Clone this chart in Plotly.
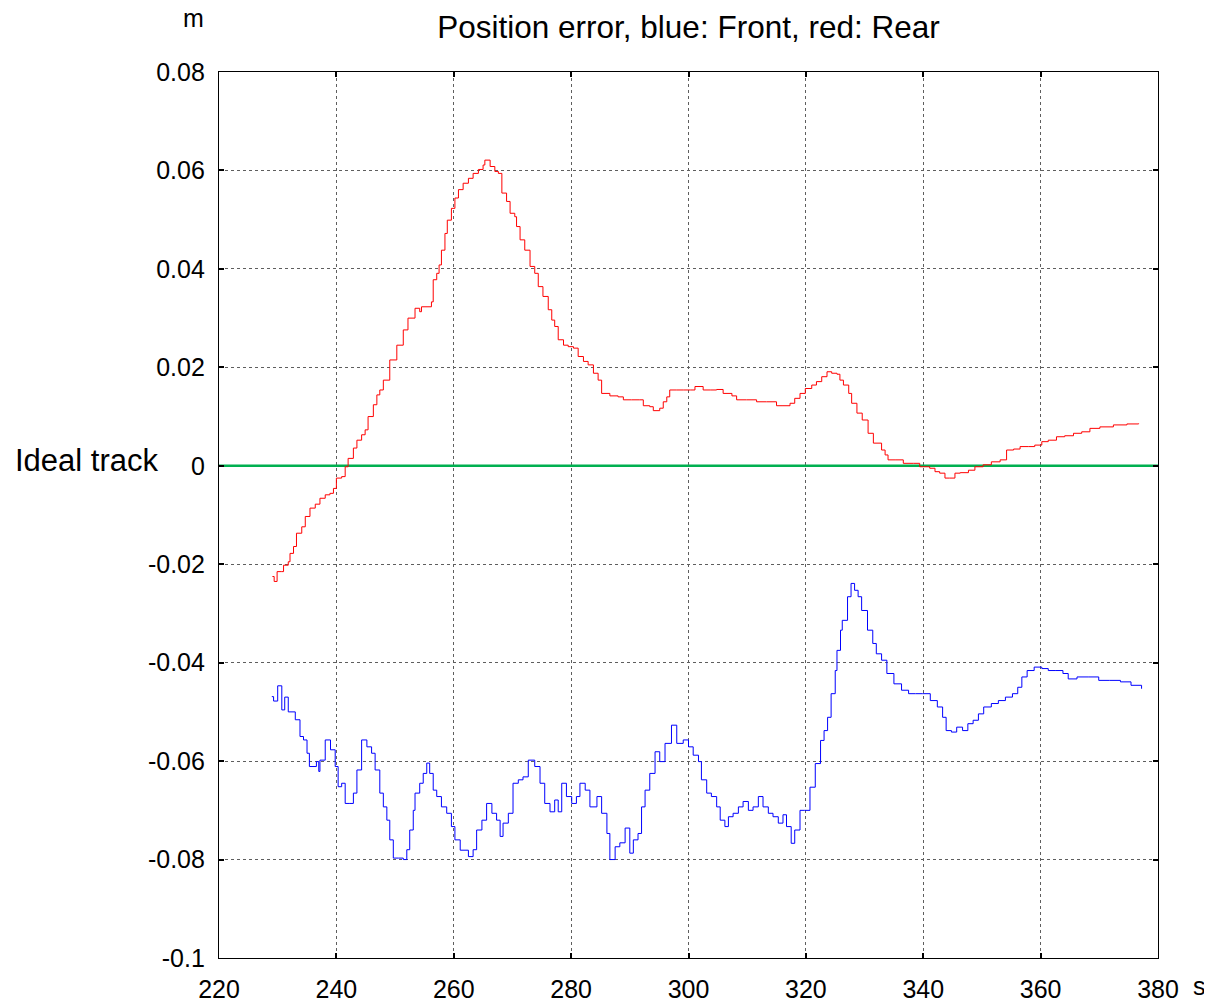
import plotly.graph_objects as go

# ---------------- data ----------------
x_ticks = [220, 240, 260, 280, 300, 320, 340, 360, 380]
y_ticks = [0.08, 0.06, 0.04, 0.02, 0, -0.02, -0.04, -0.06, -0.08, -0.1]
y_tick_text = ["0.08", "0.06", "0.04", "0.02", "0", "-0.02", "-0.04", "-0.06", "-0.08", "-0.1"]

rear_t = [229.1, 229.4, 229.9, 230.7, 231.0, 231.8, 232.1, 232.7, 233.2, 234.1,
          234.7, 235.5, 236.4, 237.2, 238.1, 238.9, 239.5, 240.0, 240.9, 241.5,
          242.0, 242.9, 243.5, 244.3, 244.9, 245.4, 246.3, 246.9, 247.4, 248.0,
          249.1, 250.3, 251.4, 252.2, 253.4, 254.2, 254.5, 256.2, 256.5, 257.1,
          257.5, 257.9, 258.5, 258.9, 259.6, 260.2, 260.8, 261.6, 262.5, 263.3,
          264.2, 265.0, 265.3, 266.2, 267.0, 267.6, 268.2, 269.0, 269.6, 270.4,
          270.7, 271.3, 272.1, 273.0, 273.8, 274.4, 275.2, 276.1, 276.7, 277.2,
          277.8, 278.7, 279.5, 280.4, 281.2, 282.1, 282.9, 283.8, 284.6, 285.2,
          286.6, 288.0, 288.9, 290.3, 291.7, 292.3, 293.4, 294.0, 295.1, 295.7,
          296.3, 296.8, 298.0, 299.1, 300.3, 301.1, 302.5, 303.7, 304.8, 305.9,
          307.4, 308.2, 309.9, 311.6, 313.3, 315.0, 316.1, 317.3, 318.1, 319.0,
          319.9, 321.0, 321.8, 322.7, 323.6, 324.4, 325.3, 325.8, 326.4, 327.3,
          327.8, 328.7, 329.6, 330.6, 331.5, 332.9, 333.5, 334.0, 335.2, 336.6,
          338.3, 339.4, 341.1, 342.0, 342.8, 343.7, 344.5, 345.4, 346.3, 347.7,
          348.8, 350.2, 351.6, 353.1, 354.2, 355.4, 356.5, 357.9, 359.0, 360.2,
          361.3, 362.7, 364.1, 365.6, 367.0, 368.4, 370.1, 372.4, 374.7, 376.7]
rear_err = [-0.0225, -0.0235, -0.0215, -0.0215, -0.0202, -0.0195, -0.0178, -0.0164, -0.0137, -0.0124,
            -0.0103, -0.0086, -0.0078, -0.0066, -0.0059, -0.0056, -0.0046, -0.0025, -0.0022, -0.0002,
            0.0015, 0.0036, 0.0052, 0.0063, 0.0073, 0.0100, 0.0124, 0.0144, 0.0154, 0.0174,
            0.0215, 0.0245, 0.0276, 0.0300, 0.0320, 0.0313, 0.0323, 0.0333, 0.0378, 0.0391,
            0.0408, 0.0438, 0.0472, 0.0499, 0.0523, 0.0544, 0.0561, 0.0574, 0.0584, 0.0594,
            0.0602, 0.0611, 0.0621, 0.0608, 0.0598, 0.0594, 0.0554, 0.0537, 0.0513, 0.0506,
            0.0486, 0.0459, 0.0438, 0.0405, 0.0391, 0.0364, 0.0344, 0.0317, 0.0296, 0.0283,
            0.0256, 0.0245, 0.0242, 0.0239, 0.0222, 0.0212, 0.0205, 0.0188, 0.0174, 0.0147,
            0.0142, 0.0140, 0.0134, 0.0134, 0.0134, 0.0122, 0.0120, 0.0112, 0.0117, 0.0130,
            0.0140, 0.0154, 0.0154, 0.0154, 0.0154, 0.0161, 0.0154, 0.0154, 0.0155, 0.0147,
            0.0142, 0.0134, 0.0134, 0.0130, 0.0130, 0.0122, 0.0122, 0.0127, 0.0137, 0.0147,
            0.0157, 0.0164, 0.0171, 0.0181, 0.0191, 0.0188, 0.0186, 0.0174, 0.0164, 0.0147,
            0.0127, 0.0107, 0.0093, 0.0066, 0.0046, 0.0032, 0.0022, 0.0012, 0.0012, 0.0005,
            0.0005, -0.0002, -0.0005, -0.0012, -0.0015, -0.0025, -0.0025, -0.0015, -0.0014, -0.0009,
            -0.0002, 0.0002, 0.0008, 0.0012, 0.0032, 0.0034, 0.0039, 0.0039, 0.0042, 0.0049,
            0.0052, 0.0059, 0.0061, 0.0066, 0.0069, 0.0076, 0.0079, 0.0083, 0.0085, 0.0086]

front_t = [229.0, 229.3, 230.0, 230.7, 231.2, 231.8, 233.0, 233.8, 234.4, 235.0,
           235.4, 236.6, 237.0, 237.2, 238.1, 239.0, 239.8, 240.3, 240.9, 241.5,
           242.3, 242.9, 243.5, 244.3, 245.2, 246.0, 246.6, 247.4, 248.0, 248.6,
           249.1, 249.7, 250.6, 251.4, 252.0, 252.5, 253.1, 253.4, 254.2, 254.8,
           255.4, 255.9, 256.5, 257.1, 257.9, 258.8, 259.6, 260.2, 261.1, 262.5,
           263.3, 263.9, 264.8, 265.6, 266.5, 267.3, 267.9, 268.4, 269.3, 270.1,
           271.0, 271.8, 272.7, 273.8, 274.7, 275.5, 276.4, 277.2, 277.8, 278.4,
           279.2, 280.1, 280.9, 281.5, 282.4, 283.2, 284.4, 285.2, 286.1, 286.6,
           287.5, 288.3, 289.2, 290.0, 290.6, 291.4, 292.0, 292.6, 293.4, 294.3,
           295.1, 296.0, 297.1, 298.0, 299.1, 300.0, 300.8, 301.7, 302.2, 303.1,
           303.9, 304.8, 305.4, 306.2, 306.8, 307.6, 308.5, 309.3, 310.2, 311.0,
           311.9, 312.7, 313.6, 314.4, 315.3, 316.1, 316.7, 317.5, 318.1, 319.0,
           319.8, 320.7, 321.6, 322.5, 323.1, 323.7, 324.3, 325.0, 325.3, 325.9,
           326.2, 327.1, 327.7, 328.3, 328.9, 329.5, 330.5, 331.4, 332.0, 332.9,
           333.8, 335.0, 336.3, 337.5, 338.7, 339.9, 341.2, 342.4, 343.3, 343.9,
           344.8, 345.7, 346.7, 347.6, 348.5, 349.4, 350.3, 351.6, 352.8, 354.0,
           355.2, 356.1, 356.8, 357.7, 358.9, 360.2, 361.3, 362.6, 363.8, 364.7,
           366.2, 368.1, 369.9, 371.7, 373.6, 375.4, 377.2]
front_err = [-0.0469, -0.0478, -0.0447, -0.0496, -0.0470, -0.0500, -0.0516, -0.0550, -0.0557, -0.0584,
             -0.0611, -0.0601, -0.0621, -0.0598, -0.0557, -0.0577, -0.0611, -0.0652, -0.0645, -0.0686,
             -0.0686, -0.0665, -0.0618, -0.0557, -0.0571, -0.0584, -0.0618, -0.0665, -0.0693, -0.0720,
             -0.0760, -0.0797, -0.0797, -0.0800, -0.0780, -0.0740, -0.0700, -0.0665, -0.0645, -0.0625,
             -0.0604, -0.0625, -0.0659, -0.0672, -0.0693, -0.0706, -0.0733, -0.0760, -0.0781, -0.0794,
             -0.0780, -0.0740, -0.0720, -0.0686, -0.0706, -0.0720, -0.0753, -0.0726, -0.0706, -0.0645,
             -0.0638, -0.0632, -0.0598, -0.0611, -0.0645, -0.0686, -0.0703, -0.0679, -0.0703, -0.0645,
             -0.0672, -0.0686, -0.0672, -0.0645, -0.0659, -0.0693, -0.0672, -0.0706, -0.0747, -0.0800,
             -0.0774, -0.0766, -0.0736, -0.0787, -0.0760, -0.0747, -0.0693, -0.0659, -0.0625, -0.0581,
             -0.0601, -0.0564, -0.0527, -0.0564, -0.0557, -0.0571, -0.0588, -0.0601, -0.0638, -0.0665,
             -0.0672, -0.0693, -0.0720, -0.0733, -0.0713, -0.0706, -0.0693, -0.0682, -0.0700, -0.0693,
             -0.0672, -0.0693, -0.0706, -0.0713, -0.0726, -0.0709, -0.0733, -0.0767, -0.0740, -0.0700,
             -0.0700, -0.0653, -0.0605, -0.0558, -0.0538, -0.0511, -0.0463, -0.0416, -0.0375, -0.0334,
             -0.0314, -0.0266, -0.0239, -0.0253, -0.0266, -0.0294, -0.0334, -0.0361, -0.0382, -0.0395,
             -0.0422, -0.0443, -0.0456, -0.0463, -0.0463, -0.0463, -0.0477, -0.0490, -0.0511, -0.0538,
             -0.0541, -0.0531, -0.0538, -0.0524, -0.0517, -0.0504, -0.0490, -0.0483, -0.0477, -0.0470,
             -0.0463, -0.0450, -0.0429, -0.0416, -0.0409, -0.0412, -0.0416, -0.0416, -0.0422, -0.0433,
             -0.0429, -0.0429, -0.0436, -0.0436, -0.0439, -0.0446, -0.0453]

ideal_t = [220, 380]
ideal_err = [0, 0]

assert len(rear_t) == len(rear_err)
assert len(front_t) == len(front_err)

FONT = "Liberation Sans, Arial, sans-serif"

# The page body has an 8 px margin, so the figure is sized/positioned to compensate.
FIG_W, FIG_H = 1204, 997
PLOT_L, PLOT_R, PLOT_T, PLOT_B = 211, 1150, 64, 950  # in figure pixels
PW, PH = PLOT_R - PLOT_L, PLOT_B - PLOT_T

fig = go.Figure()
fig.add_trace(go.Scatter(x=ideal_t, y=ideal_err, mode="lines",
                         line=dict(color="#00b050", width=2.5), showlegend=False))
fig.add_trace(go.Scatter(x=rear_t, y=rear_err, mode="lines", line_shape="hv",
                         line=dict(color="#ff0000", width=1), showlegend=False))
fig.add_trace(go.Scatter(x=front_t, y=front_err, mode="lines", line_shape="hv",
                         line=dict(color="#0000ff", width=1), showlegend=False))

axis_common = dict(
    showline=True, linecolor="black", linewidth=1.2, mirror="ticks",
    ticks="inside", ticklen=5, tickwidth=1.5, tickcolor="black",
    showgrid=True, gridcolor="#5e5e5e", gridwidth=1, griddash="dot",
    zeroline=False, automargin=False,
    tickfont=dict(family=FONT, size=25, color="black"),
)

fig.update_xaxes(range=[220, 380], tickvals=x_ticks, ticktext=[str(v) for v in x_ticks],
                 ticklabelstandoff=9, **axis_common)
fig.update_yaxes(range=[-0.1, 0.08], tickvals=y_ticks, ticktext=y_tick_text,
                 ticklabelstandoff=8, **axis_common)


def px_x(px):  # reference window pixel -> paper x
    return (px - 8 - PLOT_L) / PW


def px_y(py):  # reference window pixel -> paper y
    return (PLOT_B - (py - 8)) / PH


fig.update_layout(
    width=FIG_W, height=FIG_H,
    margin=dict(l=PLOT_L, r=FIG_W - PLOT_R, t=PLOT_T, b=FIG_H - PLOT_B, autoexpand=False),
    paper_bgcolor="white", plot_bgcolor="white",
    title=dict(text="Position error, blue: Front, red: Rear", x=0.5, xref="paper",
               xanchor="center", y=1 - (27 - 8) / FIG_H, yref="container", yanchor="middle",
               font=dict(family=FONT, size=31.5, color="black")),
    font=dict(family=FONT, color="black"),
    annotations=[
        dict(text="m", xref="paper", yref="paper", x=px_x(193), y=px_y(18),
             xanchor="center", yanchor="middle", showarrow=False,
             font=dict(family=FONT, size=25, color="black")),
        dict(text="s", xref="paper", yref="paper", x=px_x(1199), y=px_y(986),
             xanchor="center", yanchor="middle", showarrow=False,
             font=dict(family=FONT, size=25, color="black")),
        dict(text="Ideal track", xref="paper", yref="paper", x=px_x(87), y=px_y(460),
             xanchor="center", yanchor="middle", showarrow=False,
             font=dict(family=FONT, size=31, color="black")),
    ],
)

fig.write_html("out.html")
